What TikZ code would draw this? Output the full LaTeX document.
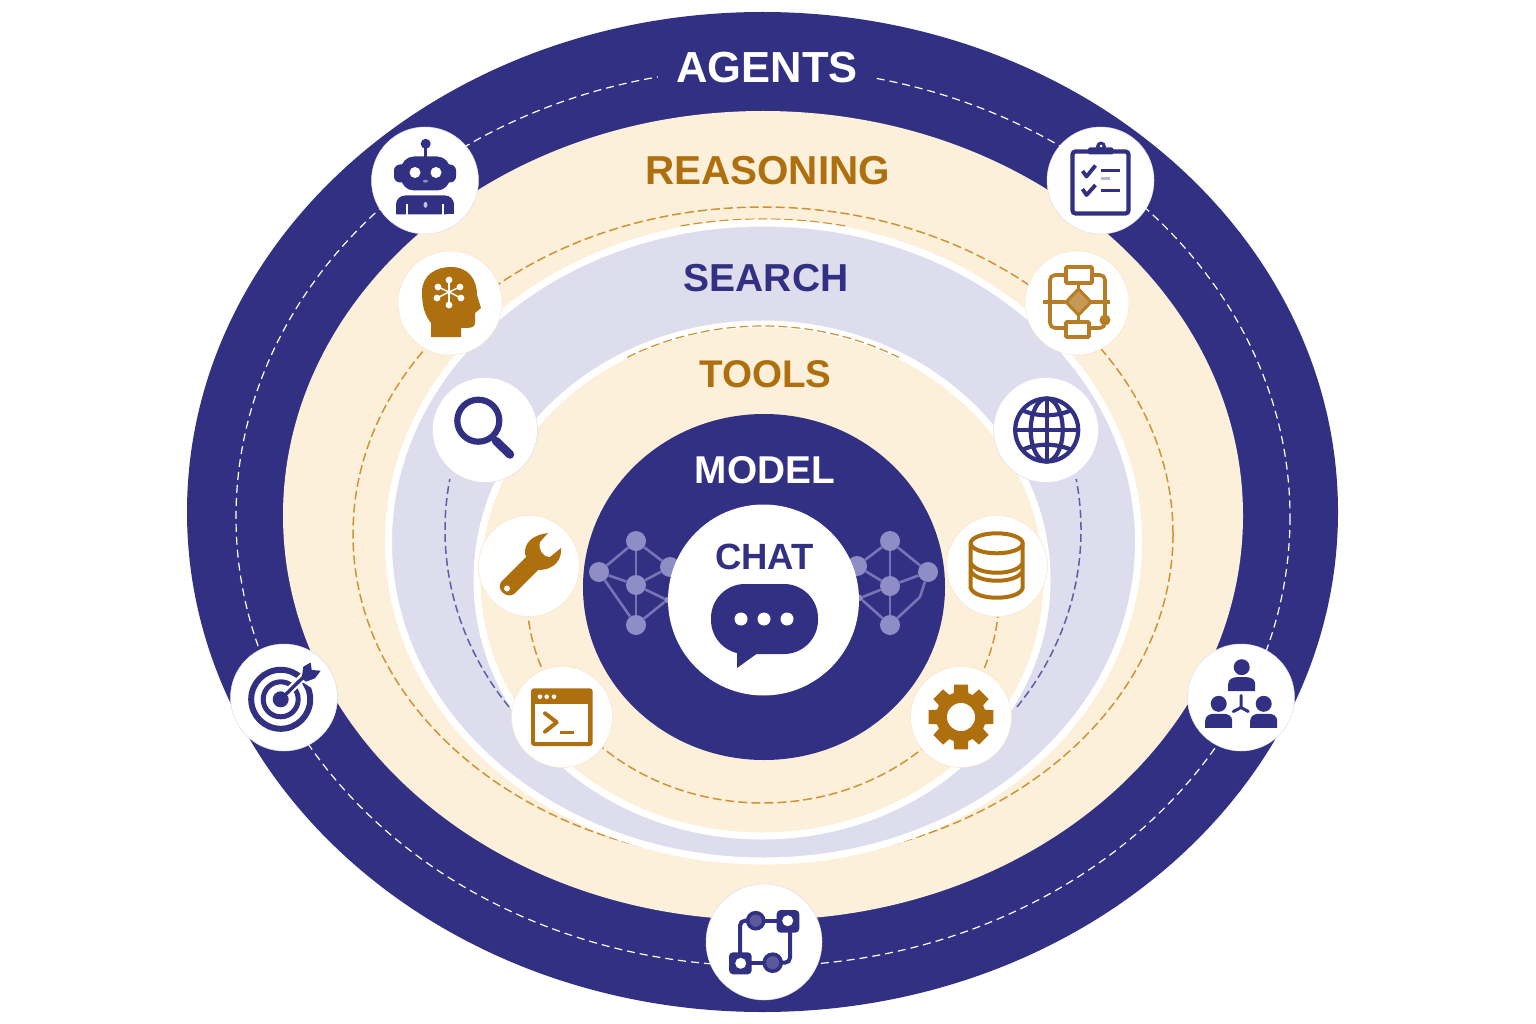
\documentclass[tikz,border=0pt]{standalone}
\usepackage{fontspec}
\setmainfont{Liberation Sans}
\definecolor{ringnavy}{HTML}{323082}
\definecolor{ringbrown}{HTML}{AE6F0E}
\definecolor{ringcream}{HTML}{FDF0DA}
\definecolor{ringlav}{HTML}{DEDDED}
\definecolor{dashbrown}{HTML}{CF9235}
\definecolor{dashblue}{HTML}{5F5DA8}
\definecolor{netblue}{HTML}{8F8DC6}
\definecolor{netedge}{HTML}{7775B5}
\def\sized#1{\fontsize{#1}{#1}\selectfont\bfseries}
\tikzset{
  navyicon/.style={circle,fill=white,draw=ringlav,line width=0.5pt,minimum size=107pt,inner sep=0pt},
  creamicon/.style={circle,fill=white,draw=ringcream!92!ringbrown,line width=0.5pt,minimum size=104pt,inner sep=0pt},
  smallicon/.style={creamicon,minimum size=101pt},
  lavicon/.style={navyicon,minimum size=105pt},
  ringlabel/.style={inner sep=0pt},
  netdot/.style={circle,fill=netblue,minimum size=20pt,inner sep=0pt},
  netline/.style={draw=netedge,line width=2.6pt},
  whitedash/.style={draw=white,line width=1.2pt,dash pattern=on 8pt off 5pt},
  browndash/.style={draw=dashbrown,line width=1.5pt,dash pattern=on 9pt off 4pt},
  bluedash/.style={draw=dashblue,line width=1.5pt,dash pattern=on 8pt off 4pt},
  orgperson/.pic={
    \fill (0,-13) circle (8);
    \fill (-13.5,11) -- (-13.5,4) .. controls (-13.5,-1) and (-9,-3) .. (-5,-3) -- (5,-3) .. controls (9,-3) and (13.5,-1) .. (13.5,4) -- (13.5,11) -- cycle;
  }
}
\begin{document}
\begin{tikzpicture}[x=1pt,y=-1pt]
  \useasboundingbox (0,0) rectangle (1536,1024);

  % rings, outside to inside
  \fill[ringnavy] (762.5,512) ellipse [x radius=575.5,y radius=500];
  \draw[whitedash] (763,517) ellipse [x radius=527,y radius=449];
  \fill[ringcream] (763,515.5) ellipse [x radius=480,y radius=404.5];
  \draw[browndash] (763,534) ellipse [x radius=410,y radius=327];
  \draw[browndash,line width=1.2pt,shift={(763,534)}] (258:396 and 315) arc [start angle=258,end angle=282,x radius=396,y radius=315];
  \filldraw[fill=ringlav,draw=white,line width=7pt] (763.5,542) ellipse [x radius=375,y radius=319];
  \draw[bluedash,shift={(763,530)}] (143:318 and 294) arc [start angle=143,end angle=190,x radius=318,y radius=294];
  \draw[bluedash,shift={(763,530)}] (37:318 and 294) arc [start angle=37,end angle=-10,x radius=318,y radius=294];
  \filldraw[fill=ringcream,draw=white,line width=7pt] (762,580) ellipse [x radius=285,y radius=256];
  \draw[browndash,line width=1.2pt,shift={(763,576)}] (241:280 and 250) arc [start angle=241,end angle=299,x radius=280,y radius=250];
  \draw[browndash,shift={(763,596)}] (0:236 and 207) arc [start angle=0,end angle=180,x radius=236,y radius=207];

  % model with its two small nets
  \fill[ringnavy] (764,587) ellipse [x radius=181,y radius=173];
  \node[netdot] (ltop) at (636,541) {};
  \node[netdot] (lleft) at (599,572) {};
  \node[netdot] (lmid) at (636,585) {};
  \node[netdot] (lbot) at (636,625) {};
  \node[netdot] (lup) at (670,567) {};
  \node[netdot,minimum size=6pt] (ldown) at (667,600) {};
  \node[netdot] (rtop) at (890,541) {};
  \node[netdot] (rright) at (928,572) {};
  \node[netdot] (rmid) at (890,586) {};
  \node[netdot] (rbot) at (890,625) {};
  \node[netdot] (rup) at (857,566) {};
  \node[netdot,minimum size=6pt] (rdown) at (860,598) {};
  \coordinate (rkink) at (920,597);
  \foreach \a/\b in {ltop/lleft,ltop/lmid,ltop/lup,lleft/lmid,lmid/lup,lmid/lbot,lleft/lbot,lmid/ldown,lbot/ldown,
                     rtop/rright,rtop/rmid,rtop/rup,rup/rmid,rmid/rright,rmid/rbot,rbot/rkink,rkink/rright,rdown/rmid,rdown/rbot}
    \draw[netline] (\a) -- (\b);

  % chat
  \fill[white] (763.5,600) circle (95.5);
  \fill[ringnavy] (737,640) -- (737,668) -- (762,650) -- cycle;
  \fill[ringnavy,rounded corners=34pt] (711,584) rectangle (818,654);
  \foreach \x in {741,764,787}
    \fill[white] (\x,619) circle (6.5);

  % ring names
  \node[ringlabel,fill=ringnavy,inner xsep=18pt,text=white,font=\sized{43.5}] (agents) at (767,68) {AGENTS};
  \node[ringlabel,text=ringbrown,font=\sized{40.4}] (reasoning) at (767.5,171) {REASONING};
  \node[ringlabel,text=ringnavy,font=\sized{39}] (search) at (766,278) {SEARCH};
  \node[ringlabel,text=ringbrown,font=\sized{38.6}] (tools) at (765.5,374) {TOOLS};
  \node[ringlabel,text=white,font=\sized{38.8}] (model) at (765,470) {MODEL};
  \node[ringlabel,text=ringnavy,font=\sized{36.5}] (chat) at (764.5,557) {CHAT};

  % icon discs
  \node[navyicon] (robot) at (425,180.5) {};
  \node[navyicon] (clipboard) at (1100.5,180.5) {};
  \node[navyicon] (target) at (284,697.5) {};
  \node[navyicon] (org) at (1241,697.5) {};
  \node[navyicon,minimum size=116pt] (flow) at (764,942) {};
  \node[creamicon] (brain) at (450,303) {};
  \node[creamicon] (chart) at (1077,303) {};
  \node[lavicon] (lens) at (485,430) {};
  \node[lavicon] (globe) at (1046,430) {};
  \node[smallicon] (wrench) at (529,566) {};
  \node[smallicon] (db) at (997,566) {};
  \node[smallicon] (term) at (562,717) {};
  \node[smallicon] (gear) at (961,717) {};

  % robot
  \begin{scope}[shift={(robot.center)},ringnavy]
    \fill (0.7,-36.7) circle (5);
    \draw[line width=3pt] (0.7,-36) -- (0.7,-22);
    \fill[rounded corners=6pt] (-31,-16) rectangle (31,2);
    \fill[rounded corners=13pt] (-24,-24) rectangle (25,10);
    \fill[white] (-10,-8) circle (5.5) (11,-8) circle (5.5);
    \fill[ringnavy!55!white] (0.5,0.7) ellipse [x radius=2.5,y radius=1.5];
    \fill[rounded corners=9pt] (-29,34) -- (-29,15) -- (29,15) -- (29,34) [sharp corners] -- cycle;
    \fill (-29,26) rectangle (29,34);
    \draw[white,line width=1.4pt] (-18,24) -- (-18,34.5) (18,24) -- (18,34.5);
    \fill[ringnavy!30!white] (0.5,24.3) ellipse [x radius=2,y radius=3];
  \end{scope}

  % clipboard
  \begin{scope}[shift={(clipboard.center)},ringnavy]
    \draw[line width=4.2pt,rounded corners=3pt] (-28,-29) rectangle (28,33);
    \fill[rounded corners=2pt] (-12.5,-33) rectangle (13,-26);
    \fill (0.5,-34) circle (5);
    \fill[white] (0.5,-34.5) circle (1.5);
    \draw[line width=3.8pt,line join=round] (-18,-9.5) -- (-14,-4) -- (-5,-15);
    \draw[line width=3.8pt,line join=round] (-18,8.5) -- (-14,14.5) -- (-5,4.5);
    \draw[line width=3pt] (0,-9.5) -- (19,-9.5) (0,10.5) -- (19,10.5);
    \draw[line width=2.6pt,ringnavy!35!white] (0,-2) -- (9.5,-2);
  \end{scope}

  % head with a small net
  \begin{scope}[shift={(brain.center)},ringbrown]
    \fill (-19,34) -- (-19,20) .. controls (-25,12) and (-28,4) .. (-28,-11)
      .. controls (-28,-28) and (-14,-36) .. (1,-36)
      .. controls (18,-36) and (27,-24) .. (27,-8)
      -- (31,5) -- (25,10) -- (25,20) .. controls (25,25) and (20,25) .. (11,25) -- (11,34) -- cycle;
    \foreach \x/\y in {-1/-23,-12/-16,10/-16,-13/-5,11/-5,-1/2} {
      \draw[white,line width=1.4pt] (-1,-11) -- (\x,\y);
      \fill[white] (\x,\y) circle (3.4);
    }
  \end{scope}

  % flow chart
  \begin{scope}[shift={(chart.center)},ringbrown!90!white]
    \draw[line width=3.6pt,rounded corners=5pt] (-11,-28) -- (-27,-28) -- (-27,25) -- (-11,25);
    \draw[line width=3.6pt,rounded corners=5pt] (15,-28) -- (28,-28) -- (28,25) -- (12,25);
    \draw[line width=3.6pt] (-34,-1) -- (-12,-1) (14,-1) -- (33,-1) (1.5,-20) -- (1.5,19);
    \draw[line width=3.6pt,fill=white,rounded corners=1pt] (-11,-36) rectangle (15,-20);
    \draw[line width=3.6pt,fill=white,rounded corners=1pt] (-11,19) rectangle (12,34);
    \draw[line width=3pt,fill=ringbrown!70!white] (1.5,-14) -- (14,-1) -- (1.5,12) -- (-11,-1) -- cycle;
    \fill (28,17) circle (5.5);
  \end{scope}

  % lens
  \begin{scope}[shift={(lens.center)},ringnavy]
    \draw[line width=6.2pt] (-6.7,-9.3) circle (21);
    \draw[line width=8.5pt,line cap=round] (11,11) -- (25,24.5);
  \end{scope}

  % globe
  \begin{scope}[shift={(globe.center)},ringnavy,line width=4.2pt]
    \draw (0.7,0) circle (31.5);
    \draw (0.7,0) ellipse [x radius=16,y radius=31.5];
    \draw (0.7,-31.5) -- (0.7,31.5) (-31,0) -- (32,0);
    \draw (-24,-20) .. controls (-10,-13) and (11,-13) .. (25.5,-20);
    \draw (-24,20) .. controls (-10,13) and (11,13) .. (25.5,20);
  \end{scope}

  % wrench
  \begin{scope}[shift={(wrench.center)},ringbrown]
    \fill (-28,16) -- (-3,-9) .. controls (-6,-17) and (-3,-30) .. (19,-33) -- (11,-24)
      .. controls (9,-17) and (13,-9) .. (21,-9) -- (32,-18)
      .. controls (33,-8) and (27,4) .. (9,4) -- (-15,28)
      .. controls (-22,33) and (-33,24) .. cycle;
    \fill[white] (-22,22.5) circle (3);
  \end{scope}

  % database
  \begin{scope}[shift={(db.center)},ringbrown,line width=4pt]
    \draw (-0.3,-22.7) ellipse [x radius=26,y radius=10];
    \draw (-26.3,-22.7) -- (-26.3,22) .. controls (-22,35) and (22,35) .. (25.7,22) -- (25.7,-22.7);
    \draw (-26.3,-3) .. controls (-20,10) and (20,10) .. (25.7,-3);
    \draw (-26.3,5) .. controls (-20,18) and (20,18) .. (25.7,5);
  \end{scope}

  % terminal
  \begin{scope}[shift={(term.center)},ringbrown]
    \fill[rounded corners=3pt] (-31,-28.7) rectangle (30.7,29);
    \fill[white] (-27,-12.7) rectangle (26,24.7);
    \foreach \x in {-22,-15.3,-8}
      \fill[white] (\x,-20.3) circle (2.3);
    \draw[line width=4pt,line cap=round,line join=round] (-17,-3.7) -- (-5.3,5.3) -- (-17,14.7);
    \draw[line width=3.6pt] (-2,15.3) -- (12,15.3);
  \end{scope}

  % gear
  \begin{scope}[shift={(gear.center)},ringbrown]
    \fill (-12:33) \foreach \a in {0,45,...,315} { -- (\a-12:33) -- (\a+12:33) -- (\a+17:25) -- (\a+28:25) } -- cycle;
    \fill[white] (0,0) circle (14);
  \end{scope}

  % target
  \begin{scope}[shift={(target.center)},ringnavy]
    \draw[line width=6pt] (-3.3,1.8) circle (29.5);
    \draw[line width=5pt] (-3.3,1.8) circle (17.5);
    \fill (-3.3,1.8) circle (8);
    \draw[white,line width=8pt] (2,-3.5) -- (24,-25.5);
    \fill[white] (13,-19) -- (24,-32) -- (40,-24) -- (30,-8) -- cycle;
    \draw[line width=3.4pt] (-3.3,1.8) -- (20,-21);
    \fill (17.7,-19.2) -- (19.3,-30.8) -- (26.7,-35) -- (27.7,-27.5) -- (36.7,-26.8) -- (31,-19.2) -- (22,-15.8) -- cycle;
  \end{scope}

  % team
  \begin{scope}[shift={(org.center)},ringnavy]
    \pic at (0.7,-17.3) {orgperson};
    \pic at (-22.3,19.3) {orgperson};
    \pic at (22.7,19.3) {orgperson};
    \draw[line width=3pt,line cap=round] (0,-2) -- (0,10) -- (-7.7,14) (0,10) -- (7.3,14);
  \end{scope}

  % workflow
  \begin{scope}[shift={(flow.center)},ringnavy]
    \draw[line width=4pt,rounded corners=5pt] (-14,-21.3) -- (-24,-21.3) -- (-24,12);
    \draw[line width=4pt,rounded corners=5pt] (18,20.7) -- (26,20.7) -- (26,-11);
    \draw[line width=4pt] (-8,-21.3) -- (14,-21.3) (-14,20.7) -- (8,20.7);
    \filldraw[fill=ringnavy!80!white,line width=3.6pt] (-8.3,-21.3) circle (8);
    \filldraw[fill=ringnavy!80!white,line width=3.6pt] (8.7,20.7) circle (8.5);
    \fill[rounded corners=4pt] (12.7,-32) rectangle (35.3,-9.3);
    \fill[rounded corners=4pt] (-35,10.3) rectangle (-12.3,32.3);
    \fill[white] (23.7,-21.3) circle (5.5) (-23.3,21.3) circle (5.5);
  \end{scope}
\end{tikzpicture}
\end{document}
